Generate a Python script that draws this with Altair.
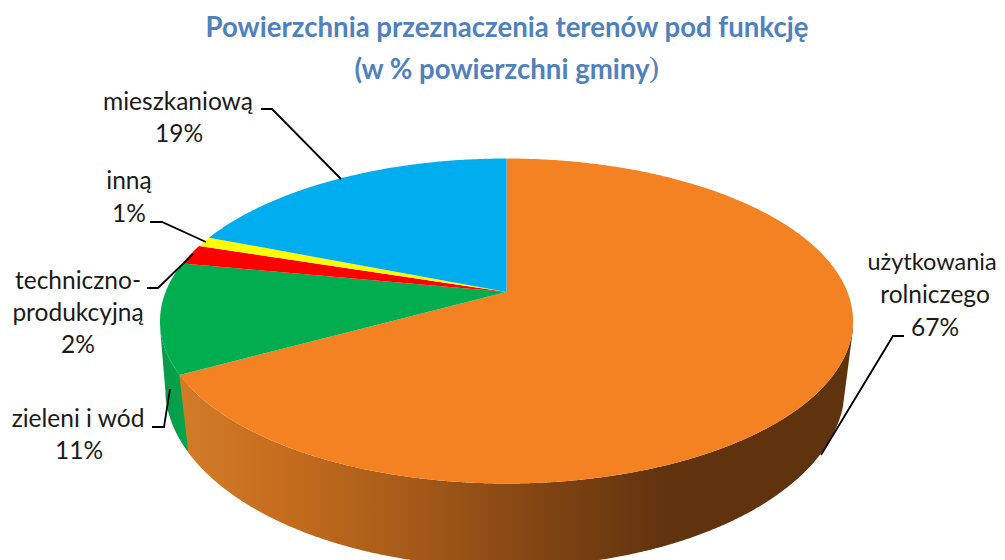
import numpy as np
import pandas as pd
import altair as alt

# --- chart values ---
categories = ["użytkowania rolniczego", "zieleni i wód", "techniczno-produkcyjną", "inną", "mieszkaniową"]
shares = [67, 11, 2, 1, 19]
colors = ["#F58222", "#00AE4F", "#FF0000", "#FFFF00", "#00AEEF"]

# --- pie geometry (page pixels) ---
CX, CY, RX, RY = 506.5, 321.0, 346.5, 162.5   # top rim
APEX_Y = 292.0
BX, BY, BRX, BRY = 505.0, 387.0, 340.0, 180.0  # bottom rim
A = (APEX_Y - CY) / RY

def rim(theta):
    u, v = np.sin(theta), -np.cos(theta)
    d = 1 + A * v
    return CX + RX * u * np.sqrt(1 - A * A) / d, CY + RY * (v + A) / d

rows = []
cum = 0
for c, s in zip(categories, shares):
    th = np.radians(np.linspace(cum, cum + s, max(4, s * 6)) * 3.6)
    xs, ys = rim(th)
    pts = [(CX, APEX_Y)] + list(zip(xs, ys)) + [(CX, APEX_Y)]
    for i, (x, y) in enumerate(pts):
        rows.append({"cat": c, "i": i, "x": float(x), "y": float(y)})
    cum += s
faces = pd.DataFrame(rows)

def top_low(x):
    return CY + RY * np.sqrt(np.clip(1 - ((x - CX) / RX) ** 2, 0, 1))

def bot_low(x):
    return BY + BRY * np.sqrt(np.clip(1 - ((x - BX) / BRX) ** 2, 0, 1))

def wall(x0, x1, lx0, ly0, lx1, ly1, rx0, ry0, rx1, ry1, n=500):
    """wall strip: x-sorted, capped by straight edges on the left and right"""
    x = np.unique(np.concatenate([np.linspace(x0, x1, n), [lx1, rx0]]))
    y = top_low(x)
    y2 = bot_low(x)
    left = x < lx1
    y2[left] = ly0 + (x[left] - lx0) * (ly1 - ly0) / (lx1 - lx0)
    right = x > rx0
    y2[right] = ry0 + (x[right] - rx0) * (ry1 - ry0) / (rx1 - rx0)
    return pd.DataFrame({"x": x, "y": y, "y2": y2})

orange_wall = wall(179.0, 852.9, 179.0, 373.0, 188.0, 448.0, 843.0, 406.0, 852.9, 330.0)
green_wall = wall(160.2, 188.0, 160.2, 330.0, 165.5, 392.0, 187.9, 449.0, 188.0, 449.0, n=80)

# --- text ---
label_lines = ["mieszkaniową", "19%", "inną", "1%", "techniczno-", "produkcyjną", "2%",
               "zieleni i wód", "11%", "rolniczego", "67%"]
label_x = [178, 179, 129, 129, 78, 78, 78, 78, 79, 935, 935]
label_y = [103, 135, 182, 215, 282, 314, 346, 420, 452, 296, 329]
labels = pd.DataFrame({"t": label_lines, "x": label_x, "y": label_y})
edge_label = pd.DataFrame({"t": ["użytkowania"], "x": [932], "y": [263]})

leaders = pd.DataFrame({
    "k": [0] * 3 + [1] * 3 + [2] * 3 + [3] * 3 + [4] * 3,
    "i": [0, 1, 2] * 5,
    "x": [261, 272, 341, 150, 162, 206, 147, 158, 193, 152, 164, 170, 904, 893, 821],
    "y": [109, 109, 179, 222, 222, 242, 288, 288, 254, 427, 427, 389, 336, 336, 455],
})

title_lines = pd.DataFrame({
    "t": ["Powierzchnia przeznaczenia terenów pod funkcję", "(w % powierzchni gminy"],
    "x": [507, 502], "y": [29, 71],
})
title_paren = pd.DataFrame({"t": [")"], "x": [654], "y": [68]})

# --- scales: data coordinates are page pixels ---
W, H = 989, 552
X = alt.X("x:Q", scale=alt.Scale(domain=[8, 8 + W], nice=False, zero=False), axis=None)
Y = alt.Y("y:Q", scale=alt.Scale(domain=[8 + H, 8], nice=False, zero=False), axis=None)

def grad(stops):
    return alt.Gradient(
        gradient="linear", x1=0, x2=1, y1=0, y2=0,
        stops=[alt.GradientStop(offset=o, color=c) for o, c in stops],
    )

green_layer = alt.Chart(green_wall).mark_area(
    fill=grad([(0, "#0A9A4A"), (0.6, "#06A04B"), (1, "#00A94E")])
).encode(x=X, y=Y, y2="y2:Q")

orange_layer = alt.Chart(orange_wall).mark_area(
    fill=grad([(0, "#D27C26"), (0.15, "#C66D1E"), (0.33, "#A85C19"),
               (0.55, "#7F4312"), (0.72, "#61330F"), (1, "#5F330E")])
).encode(x=X, y=Y, y2="y2:Q")

face_layer = alt.Chart(faces).mark_line(filled=True, interpolate="linear").encode(
    x=X, y=Y, order="i:Q",
    fill=alt.Fill("cat:N", scale=alt.Scale(domain=categories, range=colors), legend=None),
    detail="cat:N",
)

leader_layer = alt.Chart(leaders).mark_line(color="#000000", strokeWidth=1.8).encode(
    x=X, y=Y, detail="k:N", order="i:Q"
)

label_layer = alt.Chart(labels).mark_text(
    font="Lato", fontSize=24.5, color="#1A1A1A", align="center", baseline="middle"
).encode(x=X, y=Y, text="t:N")

edge_layer = alt.Chart(edge_label).mark_text(
    font="Lato", fontSize=23.5, color="#1A1A1A", align="center", baseline="middle"
).encode(x=X, y=Y, text="t:N")

title_layer = alt.Chart(title_lines).mark_text(
    font="Lato", fontSize=27.6, fontWeight="bold", color="#4F81BD", align="center", baseline="middle"
).encode(x=X, y=Y, text="t:N")

paren_layer = alt.Chart(title_paren).mark_text(
    font="Liberation Serif", fontSize=30, color="#4F81BD", align="center", baseline="middle"
).encode(x=X, y=Y, text="t:N")

chart = (
    alt.layer(green_layer, orange_layer, face_layer, leader_layer, label_layer, edge_layer, title_layer, paren_layer)
    .properties(width=W, height=H, padding=0, autosize=alt.AutoSizeParams(type="none"))
    .configure_view(stroke=None)
)

chart.save("out.html", embed_options={"renderer": "svg", "actions": False})
